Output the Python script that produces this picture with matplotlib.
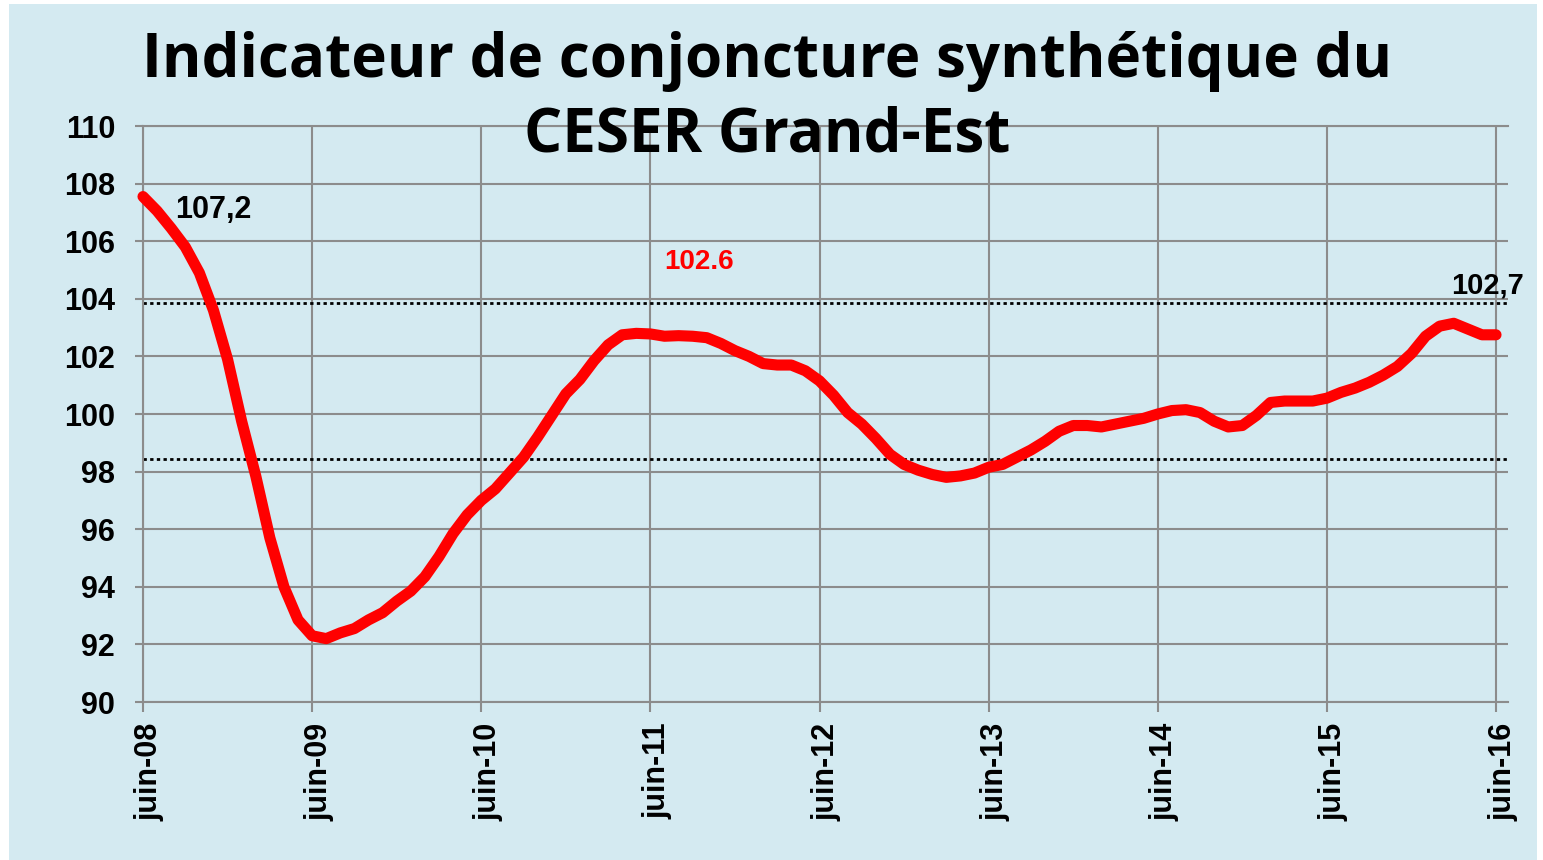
import numpy as np
import matplotlib
matplotlib.use("Agg")
import matplotlib.pyplot as plt
import matplotlib.transforms as mtransforms
from matplotlib.patches import Rectangle

# monthly index, juin-08 .. juin-16
indicateur = [107.55, 107.05, 106.45, 105.8, 104.9, 103.6, 101.9, 99.75, 97.85, 95.7,
              94.0, 92.85, 92.3, 92.2, 92.4, 92.55, 92.85, 93.1, 93.5, 93.85,
              94.35, 95.05, 95.85, 96.5, 97.0, 97.4, 97.95, 98.5, 99.2, 99.95,
              100.7, 101.2, 101.85, 102.4, 102.75, 102.8, 102.78, 102.7, 102.72, 102.7,
              102.65, 102.45, 102.2, 102.0, 101.75, 101.7, 101.7, 101.5, 101.15, 100.65,
              100.05, 99.65, 99.15, 98.6, 98.25, 98.05, 97.9, 97.8, 97.85, 97.95,
              98.15, 98.25, 98.5, 98.75, 99.05, 99.4, 99.6, 99.6, 99.55, 99.65,
              99.75, 99.85, 100.0, 100.12, 100.15, 100.05, 99.75, 99.55, 99.6, 99.95,
              100.4, 100.45, 100.45, 100.45, 100.55, 100.75, 100.9, 101.1, 101.35, 101.65,
              102.1, 102.7, 103.05, 103.15, 102.95, 102.75, 102.75]
mois = np.arange(len(indicateur))
tick_pos = [0, 12, 24, 36, 48, 60, 72, 84, 96]
tick_labels = ["juin-08", "juin-09", "juin-10", "juin-11", "juin-12",
               "juin-13", "juin-14", "juin-15", "juin-16"]
seuil_haut = 103.85
seuil_bas = 98.45

bleu = "#d4eaf1"
gris = "#8c8c8c"

fig = plt.figure(figsize=(15.43, 8.6), dpi=100, facecolor="white")
fig.patches.append(Rectangle((9 / 1543, 0), 1528 / 1543, 856 / 860,
                             transform=fig.transFigure, facecolor=bleu,
                             edgecolor="none", zorder=-1))

ax = fig.add_axes([143 / 1543, 1 - 702 / 860, 1365 / 1543, 576 / 860])
ax.set_facecolor(bleu)
ax.set_xlim(0, 96.85)
ax.set_ylim(90, 110)
ax.set_yticks(np.arange(90, 111, 2))
ax.set_xticks(tick_pos)
ax.set_xticklabels(tick_labels, rotation=90)

ax.grid(True, color=gris, lw=1.5)
ax.set_axisbelow(True)
ax.spines["right"].set_visible(False)
for s in ["left", "bottom", "top"]:
    ax.spines[s].set_color(gris)
    ax.spines[s].set_linewidth(1.5)
ax.tick_params(axis="y", length=6, width=1.5, color=gris, pad=14)
ax.tick_params(axis="x", length=7, width=1.5, color=gris, pad=8)
for lab in ax.get_yticklabels() + ax.get_xticklabels():
    lab.set_fontfamily("Liberation Sans")
    lab.set_fontweight("bold")
    lab.set_fontsize(22)
off = mtransforms.ScaledTranslation(7 / 100, 0, fig.dpi_scale_trans)
for lab in ax.get_xticklabels():
    lab.set_transform(lab.get_transform() + off)

ax.axhline(seuil_haut, color="black", lw=2, linestyle=(0, (1.2, 1.2)), zorder=2)
ax.axhline(seuil_bas, color="black", lw=2, linestyle=(0, (1.2, 1.2)), zorder=2)

ax.plot(mois, indicateur, color="#ff0000", lw=8, solid_capstyle="round",
        solid_joinstyle="round", zorder=3, clip_on=False)

ax.text(2.27, 106.8, "107,2", fontsize=22, fontweight="bold",
        family="Liberation Sans", color="black", va="baseline", ha="left")
ax.text(37.0, 105.03, "102.6", fontsize=20, fontweight="bold",
        family="Liberation Sans", color="#ff0000", va="baseline", ha="left")
ax.text(92.8, 104.17, "102,7", fontsize=21, fontweight="bold",
        family="Liberation Sans", color="black", va="baseline", ha="left")

fig.text(767 / 1543, 1 - 77 / 860, "Indicateur de conjoncture synthétique du",
         fontsize=43.3, fontweight="bold", family="Open Sans",
         ha="center", va="baseline")
fig.text(767 / 1543, 1 - 152 / 860, "CESER Grand-Est",
         fontsize=43.3, fontweight="bold", family="Open Sans",
         ha="center", va="baseline")

fig.savefig("out.png", dpi=100, facecolor="white")
